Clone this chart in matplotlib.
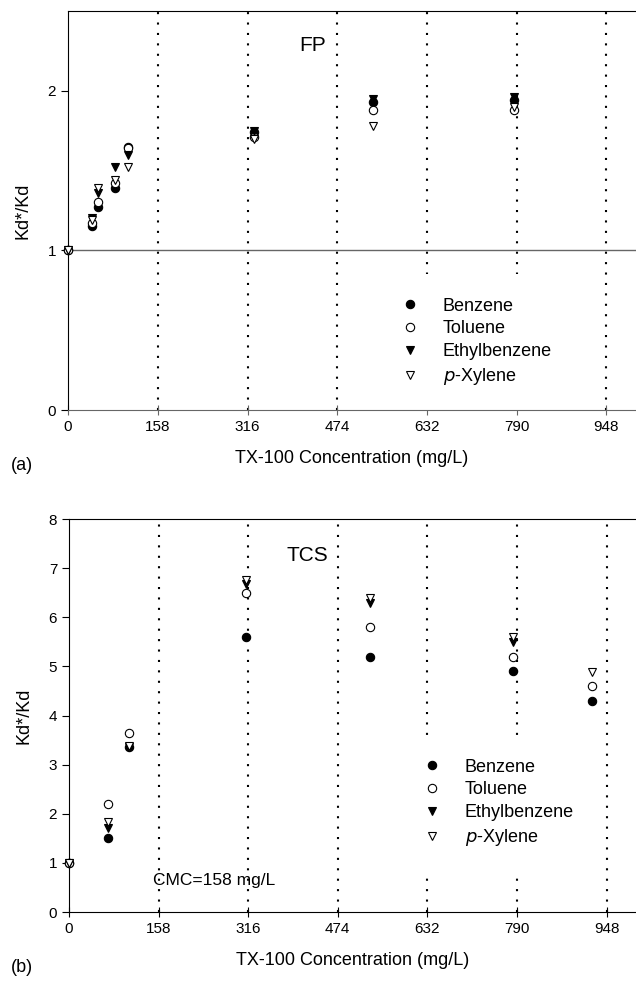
"""Kd*/Kd vs TX-100 concentration for FP and TCS sorbents."""
import matplotlib
matplotlib.use('Agg')
import matplotlib.pyplot as plt
import numpy as np

plt.rcParams['font.family'] = ['Liberation Sans', 'DejaVu Sans']

# Data
x_fp = [0, 42, 53, 82, 105, 328, 537, 785]
benzene_fp = [1.0, 1.15, 1.27, 1.39, 1.65, 1.74, 1.93, 1.94]
toluene_fp = [1.0, 1.17, 1.30, 1.42, 1.64, 1.71, 1.88, 1.88]
ethyl_fp = [1.0, 1.20, 1.36, 1.52, 1.60, 1.75, 1.95, 1.96]
xylene_fp = [1.0, 1.19, 1.39, 1.44, 1.52, 1.70, 1.78, 1.90]

x_tcs = [0, 69, 105, 312, 530, 783, 922]
benzene_tcs = [1.0, 1.50, 3.35, 5.60, 5.20, 4.90, 4.30]
toluene_tcs = [1.0, 2.19, 3.65, 6.50, 5.81, 5.20, 4.61]
ethyl_tcs = [1.0, 1.71, 3.35, 6.68, 6.29, 5.50, np.nan]
xylene_tcs = [1.0, 1.84, 3.38, 6.76, 6.40, 5.60, 4.89]

cmc_lines = [158, 316, 474, 632, 790, 948]
labels = ['Benzene', 'Toluene', 'Ethylbenzene', '$\\it{p}$-Xylene']
styles = [('o', 'black'), ('o', 'white'), ('v', 'black'), ('v', 'white')]

fig = plt.figure(figsize=(6.36, 9.81), dpi=100)
ax1 = fig.add_axes([0.107, 0.582, 0.893, 0.407])
ax2 = fig.add_axes([0.1085, 0.0703, 0.8915, 0.4006])


def draw(ax, x, series, ylim, yticks, legend_anchor, gray_bottom):
    for xv in cmc_lines:
        ax.axvline(xv, color='black', lw=1.5, linestyle=(0, (1, 4)), zorder=1)
    handles = []
    for y, (m, fc), lab in zip(series, styles, labels):
        h, = ax.plot(x, y, linestyle='none', marker=m, markersize=6,
                     markerfacecolor=fc, markeredgecolor='black',
                     markeredgewidth=0.8, label=lab, zorder=3, clip_on=False)
        handles.append(h)
    ax.set_xlim(0, 1000)
    ax.set_ylim(*ylim)
    ax.set_xticks([0] + cmc_lines)
    ax.set_yticks(yticks)
    ax.tick_params(axis='both', labelsize=11)
    ax.tick_params(axis='x', direction='inout', length=7)
    ax.tick_params(axis='y', direction='out', length=5)
    ax.spines['right'].set_visible(False)
    if gray_bottom:
        ax.spines['bottom'].set_color('0.4')
        ax.tick_params(axis='x', color='0.4')
    ax.set_xlabel('TX-100 Concentration (mg/L)', fontsize=13, labelpad=12)
    ax.set_ylabel('Kd*/Kd', fontsize=13, labelpad=12)
    leg = ax.legend(handles=handles, loc='upper left',
                    bbox_to_anchor=legend_anchor, fontsize=13,
                    frameon=True, framealpha=1, facecolor='white',
                    edgecolor='none', fancybox=False, handlelength=1,
                    handletextpad=1.3, labelspacing=0.32, borderpad=1.3)
    leg.set_zorder(2)


draw(ax1, x_fp, [benzene_fp, toluene_fp, ethyl_fp, xylene_fp],
     (0, 2.5), [0, 1, 2], (0.529, 0.363), True)
ax1.axhline(1, color='0.4', lw=1, zorder=2)
ax1.text(430, 2.28, 'FP', fontsize=15, ha='center', va='center')

draw(ax2, x_tcs, [benzene_tcs, toluene_tcs, ethyl_tcs, xylene_tcs],
     (0, 8), range(0, 9), (0.567, 0.473), False)
ax2.text(420, 7.25, 'TCS', fontsize=15, ha='center', va='center')
ax2.text(256, 0.65, 'CMC=158 mg/L', fontsize=12.5, ha='center', va='center')

fig.text(0.035, 1 - 465 / 981, '(a)', fontsize=13, ha='center', va='center')
fig.text(0.035, 1 - 968 / 981, '(b)', fontsize=13, ha='center', va='center')

plt.savefig('out.png', dpi=100)
